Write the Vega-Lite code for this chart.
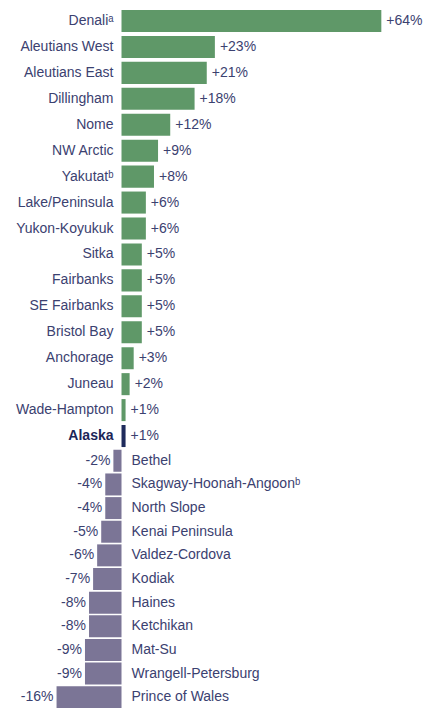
{
  "$schema": "https://vega.github.io/schema/vega-lite/v6.json",
  "autosize": {"type": "pad"},
  "padding": {"left": 0, "top": 8, "right": 0, "bottom": 0},
  "spacing": 0,
  "background": "white",
  "config": {
    "view": {"stroke": null},
    "text": {"font": "Liberation Sans", "fontSize": 14, "color": "#3b4170"}
  },
  "datasets": {
    "up": [
      {"area": "Denaliᵃ", "v": 64, "label": "+64%", "group": "up"},
      {"area": "Aleutians West", "v": 23, "label": "+23%", "group": "up"},
      {"area": "Aleutians East", "v": 21, "label": "+21%", "group": "up"},
      {"area": "Dillingham", "v": 18, "label": "+18%", "group": "up"},
      {"area": "Nome", "v": 12, "label": "+12%", "group": "up"},
      {"area": "NW Arctic", "v": 9, "label": "+9%", "group": "up"},
      {"area": "Yakutatᵇ", "v": 8, "label": "+8%", "group": "up"},
      {"area": "Lake/Peninsula", "v": 6, "label": "+6%", "group": "up"},
      {"area": "Yukon-Koyukuk", "v": 6, "label": "+6%", "group": "up"},
      {"area": "Sitka", "v": 5, "label": "+5%", "group": "up"},
      {"area": "Fairbanks", "v": 5, "label": "+5%", "group": "up"},
      {"area": "SE Fairbanks", "v": 5, "label": "+5%", "group": "up"},
      {"area": "Bristol Bay", "v": 5, "label": "+5%", "group": "up"},
      {"area": "Anchorage", "v": 3, "label": "+3%", "group": "up"},
      {"area": "Juneau", "v": 2, "label": "+2%", "group": "up"},
      {"area": "Wade-Hampton", "v": 1, "label": "+1%", "group": "up"},
      {"area": "Alaska", "v": 1, "label": "+1%", "group": "state"}
    ],
    "down": [
      {"area": "Bethel", "v": -2, "label": "-2%", "group": "down"},
      {"area": "Skagway-Hoonah-Angoonᵇ", "v": -4, "label": "-4%", "group": "down"},
      {"area": "North Slope", "v": -4, "label": "-4%", "group": "down"},
      {"area": "Kenai Peninsula", "v": -5, "label": "-5%", "group": "down"},
      {"area": "Valdez-Cordova", "v": -6, "label": "-6%", "group": "down"},
      {"area": "Kodiak", "v": -7, "label": "-7%", "group": "down"},
      {"area": "Haines", "v": -8, "label": "-8%", "group": "down"},
      {"area": "Ketchikan", "v": -8, "label": "-8%", "group": "down"},
      {"area": "Mat-Su", "v": -9, "label": "-9%", "group": "down"},
      {"area": "Wrangell-Petersburg", "v": -9, "label": "-9%", "group": "down"},
      {"area": "Prince of Wales", "v": -16, "label": "-16%", "group": "down"}
    ]
  },
  "resolve": {"scale": {"y": "independent"}},
  "vconcat": [
    {
      "width": 438,
      "height": 441,
      "data": {"name": "up"},
      "encoding": {
        "y": {"field": "area", "type": "nominal", "sort": null, "axis": null,
              "scale": {"paddingInner": 0.15, "paddingOuter": 0.075}}
      },
      "layer": [
        {
          "mark": {"type": "bar"},
          "encoding": {
            "x": {"field": "v", "type": "quantitative", "axis": null,
                  "scale": {"domain": [-29.93, 77.96], "nice": false, "zero": false}},
            "x2": {"datum": 0},
            "color": {"field": "group", "type": "nominal", "legend": null,
                      "scale": {"domain": ["up", "state", "down"], "range": ["#5f9868", "#1f2b5c", "#7b7596"]}}
          }
        },
        {
          "transform": [{"filter": "datum.group !== 'state'"}],
          "mark": {"type": "text", "align": "right", "baseline": "middle", "dx": -8},
          "encoding": {
            "x": {"datum": 0, "type": "quantitative"},
            "text": {"field": "area"}
          }
        },
        {
          "transform": [{"filter": "datum.group === 'state'"}],
          "mark": {"type": "text", "align": "right", "baseline": "middle", "dx": -8, "fontWeight": "bold", "color": "#1b2557"},
          "encoding": {
            "x": {"datum": 0, "type": "quantitative"},
            "text": {"field": "area"}
          }
        },
        {
          "mark": {"type": "text", "align": "left", "baseline": "middle", "dx": 5},
          "encoding": {
            "x": {"field": "v", "type": "quantitative"},
            "text": {"field": "label"}
          }
        }
      ]
    },
    {
      "width": 438,
      "height": 260,
      "data": {"name": "down"},
      "encoding": {
        "y": {"field": "area", "type": "nominal", "sort": null, "axis": null,
              "scale": {"paddingInner": 0.07, "paddingOuter": 0.035}}
      },
      "layer": [
        {
          "mark": {"type": "bar"},
          "encoding": {
            "x": {"field": "v", "type": "quantitative", "axis": null,
                  "scale": {"domain": [-29.93, 77.96], "nice": false, "zero": false}},
            "x2": {"datum": 0},
            "color": {"field": "group", "type": "nominal", "legend": null,
                      "scale": {"domain": ["up", "state", "down"], "range": ["#5f9868", "#1f2b5c", "#7b7596"]}}
          }
        },
        {
          "mark": {"type": "text", "align": "left", "baseline": "middle", "dx": 10},
          "encoding": {
            "x": {"datum": 0, "type": "quantitative"},
            "text": {"field": "area"}
          }
        },
        {
          "mark": {"type": "text", "align": "right", "baseline": "middle", "dx": -3},
          "encoding": {
            "x": {"field": "v", "type": "quantitative"},
            "text": {"field": "label"}
          }
        }
      ]
    }
  ]
}
